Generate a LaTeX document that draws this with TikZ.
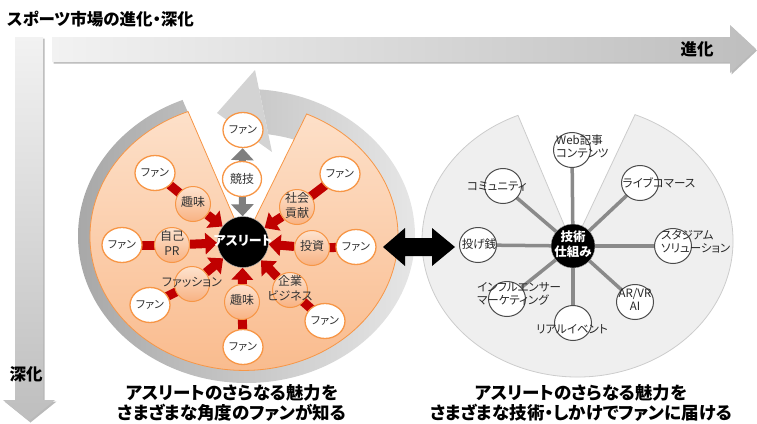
\documentclass[tikz,border=0pt]{standalone}
\usepackage{fontspec}
\setmainfont{Noto Sans CJK JP}[CharacterWidth=AlternateProportional]
\usetikzlibrary{shapes.geometric,arrows.meta,calc}
\pgfdeclarelayer{back}
\pgfdeclarelayer{conn}
\pgfsetlayers{back,conn,main}
\definecolor{redc}{HTML}{C00000}
\definecolor{orb}{HTML}{F79646}
\definecolor{orL}{HTML}{FDE3CF}
\definecolor{orD}{HTML}{F8B283}
\definecolor{discL}{HTML}{FDE0C9}
\definecolor{discD}{HTML}{F9B98A}
\definecolor{ringL}{HTML}{A8A8A8}
\definecolor{ringR}{HTML}{E6E6E6}
\definecolor{ringA}{HTML}{D3D3D3}
\definecolor{gdisc}{HTML}{EFEFEF}
\definecolor{garr}{HTML}{7F7F7F}
\definecolor{gspoke}{HTML}{8A8A8A}
\definecolor{axL}{HTML}{F2F2F2}
\definecolor{axR}{HTML}{BEBEBE}
\newcommand{\nodetxt}[1]{\makebox[0pt]{\begin{tabular}{@{}c@{}}#1\end{tabular}}}
\begin{document}
\begin{tikzpicture}[x=1pt,y=1pt,
 fannode/.style={ellipse, draw=orb, line width=1.3pt, fill=white, minimum width=40pt, minimum height=35pt, inner sep=0pt, font=\fontsize{11}{12}\selectfont, text=black!80},
 midnode/.style={circle, draw=orb, line width=1pt, top color=orL, bottom color=orD, minimum size=35pt, inner sep=0pt, font=\fontsize{12}{14.5}\selectfont, text=black!80},
 kyonode/.style={ellipse, draw=orb, line width=1.3pt, fill=white, minimum width=39pt, minimum height=35pt, inner sep=0pt, font=\fontsize{12}{14}\selectfont, text=black!80},
 athnode/.style={circle, fill=black, draw=gray!60, minimum size=51pt, inner sep=0pt, text=white, font=\bfseries\fontsize{13}{14}\selectfont},
 technode/.style={circle, fill=black, draw=gray!60, minimum size=44pt, inner sep=0pt, text=white, font=\bfseries\fontsize{12.5}{15}\selectfont},
 rnode/.style={ellipse, draw=gray!60!black, line width=1pt, fill=white, minimum width=37pt, minimum height=35pt, inner sep=0pt},
 rtext/.style={inner sep=0pt, align=left, font=\fontsize{11.5}{13}\selectfont, text=black!85},
 redbar/.style={draw=redc, line width=9pt},
 redarrow/.style={draw=redc, line width=9pt, -{Triangle[width=21pt,length=12pt]}},
 grayarrow/.style={draw=garr, line width=7pt, -{Triangle[width=22pt,length=12pt]}},
 spoke/.style={draw=gspoke, line width=3.5pt},
 captext/.style={align=center, inner sep=0pt, font=\bfseries\fontsize{17.5}{20}\selectfont, text=black},
 axlabel/.style={inner sep=0pt, font=\bfseries\fontsize{16.5}{18}\selectfont, text=black}
]
\useasboundingbox (0,0) rectangle (757,-423);

\begin{pgfonlayer}{back}
% axis arrows
\fill[gray!55] (53.5,-38.5) -- (731.5,-38.5) -- (731.5,-26.5) -- (757,-50.5) -- (731.5,-74.5) -- (731.5,-63.5) -- (53.5,-63.5) -- cycle;
\shade[left color=axL, right color=axR] (52,-37) -- (730,-37) -- (730,-25) -- (756,-49) -- (730,-73) -- (730,-62) -- (52,-62) -- cycle;
\fill[gray!55] (16.5,-38.5) -- (44.5,-38.5) -- (44.5,-401.5) -- (56.5,-401.5) -- (30.5,-422.5) -- (4.5,-401.5) -- (16.5,-401.5) -- cycle;
\shade[top color=axL, bottom color=axR] (15,-37) -- (43,-37) -- (43,-400) -- (55,-400) -- (29,-421) -- (3,-400) -- (15,-400) -- cycle;

% gray circular arrow around left disc
\begin{scope}
\clip (244,-241) -- (272,-152) -- (255,-70) -- (234,31) -- (700,31) -- (700,-600) -- (-100,-600) -- (-100,39) -- (122,39) -- cycle;
\shade[left color=ringL, right color=ringR, even odd rule] (246.5,-236) ellipse[x radius=168.5, y radius=147] (246.5,-236) ellipse[x radius=135, y radius=103];
\end{scope}
\fill[ringA] (255,-70) -- (217,-113) -- (272,-152) -- cycle;

% orange disc
\shadedraw[top color=discL, bottom color=discD, draw=orb, line width=0.8pt] (244,-241) -- ($(244,-236.4)+(111.3:154 and 134)$) arc[start angle=111.3, end angle=426, x radius=154, y radius=134] -- cycle;

% right disc
\filldraw[fill=gdisc, draw=gray!40, line width=0.8pt] (573,-246) -- ($(577.5,-241)+(112.5:155.5 and 136)$) arc[start angle=112.5, end angle=428.3, x radius=155.5, y radius=136] -- cycle;

% black double arrow
\fill[black] (383,-247) -- (405,-228) -- (405,-238) -- (432,-238) -- (432,-228) -- (455,-247) -- (432,-266) -- (432,-256) -- (405,-256) -- (405,-266) -- cycle;
\end{pgfonlayer}

% labels
\node[axlabel, anchor=west] (title) at (7,-19.5) {スポーツ市場の進化・深化};
\node[axlabel] (evo) at (697,-49.5) {進化};
\node[axlabel] (deep) at (26,-374) {深化};

% left cluster
\node[athnode] (ath) at (243,-242) {\nodetxt{アスリート}};
\node[kyonode] (kyogi) at (242,-179) {競技};
\node[fannode] (f0) at (243,-130) {ファン};
\node[midnode] (m1) at (193,-204) {\nodetxt{趣味}};
\node[fannode] (f1) at (155,-173) {ファン};
\node[midnode] (m2) at (172,-245) {\nodetxt{自己\\PR}};
\node[fannode] (f2) at (122,-245) {ファン};
\node[midnode] (m3) at (192,-284) {\nodetxt{ファッション}};
\node[fannode] (f3) at (150,-305) {ファン};
\node[midnode] (m4) at (242,-302) {\nodetxt{趣味}};
\node[fannode] (f4) at (243,-347) {ファン};
\node[midnode] (m5) at (290,-290) {\nodetxt{企業\\ビジネス}};
\node[fannode] (f5) at (325,-321) {ファン};
\node[midnode] (m6) at (312,-248) {\nodetxt{投資}};
\node[fannode] (f6) at (356,-247) {ファン};
\node[midnode] (m7) at (297,-207) {\nodetxt{社会\\貢献}};
\node[fannode] (f7) at (340,-174) {ファン};

\begin{pgfonlayer}{conn}
\foreach \i in {1,...,7}{
  \draw[redbar] (f\i.center) -- (m\i.center);
  \draw[redarrow] (m\i) -- (ath);
}
\draw[grayarrow] (kyogi) -- (f0);
\draw[grayarrow] (kyogi) -- (ath);
\end{pgfonlayer}

% right cluster
\node[technode] (tech) at (573,-246) {\nodetxt{技術\\仕組み}};
\node[rnode] (web) at (572,-150) {};
\node[rnode] (comm) at (503,-186) {};
\node[rnode] (live) at (640,-183) {};
\node[rnode] (nage) at (478,-245) {};
\node[rnode] (stad) at (673,-246) {};
\node[rnode] (infl) at (507,-299) {};
\node[rnode] (arvr) at (635,-302) {};
\node[rnode] (real) at (573,-323) {};

\node[rtext, anchor=west] (webt) at (556,-146) {Web記事\\コンテンツ};
\node[rtext] (commt) at (497,-187) {コミュニティ};
\node[rtext] (livet) at (659,-183) {ライブコマース};
\node[rtext] (naget) at (479,-244) {投げ銭};
\node[rtext, anchor=west] (stadt) at (661,-241.5) {スタジアム\\ソリューション};
\node[rtext, anchor=west] (inflt) at (477,-293.5) {インフルエンサー\\マーケティング};
\node[rtext, align=center] (arvrt) at (635,-299) {AR/VR\\AI};
\node[rtext] (realt) at (572,-329) {リアルイベント};

\begin{pgfonlayer}{conn}
\foreach \n in {web,comm,live,nage,stad,infl,arvr,real}{
  \draw[spoke] (tech.center) -- (\n.center);
}
\end{pgfonlayer}

% captions
\node[captext] (capL) at (232,-403) {アスリートのさらなる魅力を\\さまざまな角度のファンが知る};
\node[captext] (capR) at (581,-403) {アスリートのさらなる魅力を\\さまざまな技術・しかけでファンに届ける};
\end{tikzpicture}
\end{document}
